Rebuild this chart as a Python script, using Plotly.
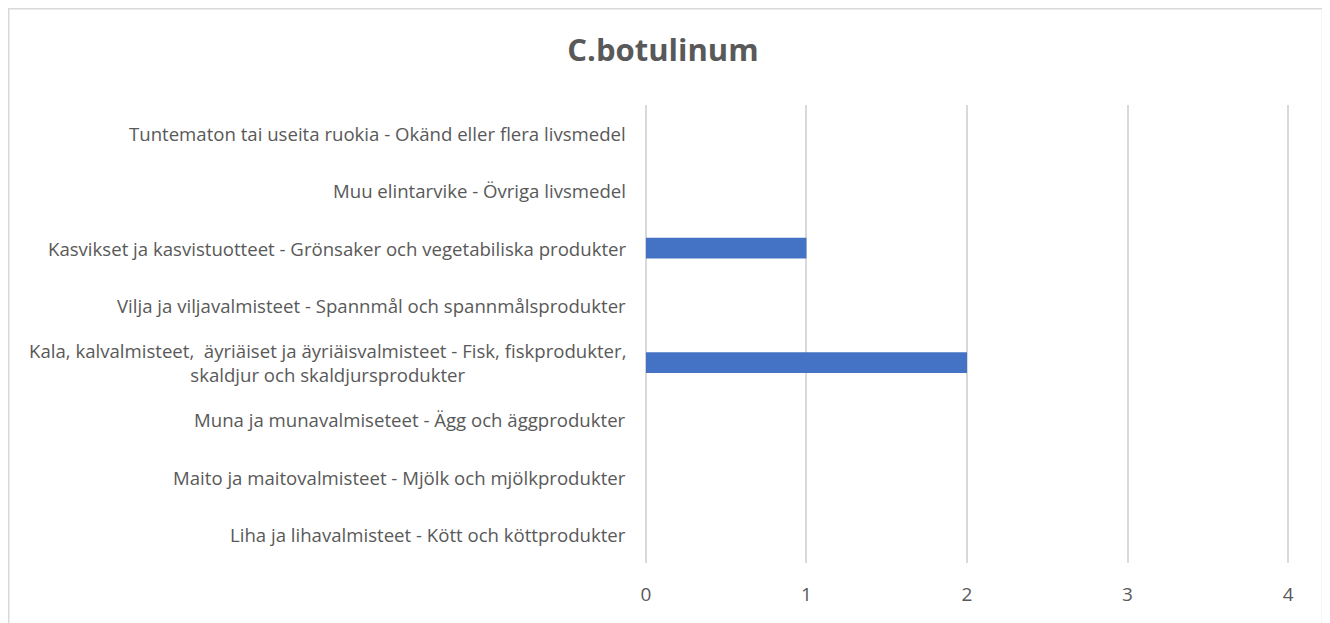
import plotly.graph_objects as go

categories = [
    "Liha ja lihavalmisteet - Kött och köttprodukter",
    "Maito ja maitovalmisteet - Mjölk och mjölkprodukter",
    "Muna ja munavalmiseteet - Ägg och äggprodukter",
    "Kala, kalvalmisteet,  äyriäiset ja äyriäisvalmisteet - Fisk, fiskprodukter,<br>skaldjur och skaldjursprodukter",
    "Vilja ja viljavalmisteet - Spannmål och spannmålsprodukter",
    "Kasvikset ja kasvistuotteet - Grönsaker och vegetabiliska produkter",
    "Muu elintarvike - Övriga livsmedel",
    "Tuntematon tai useita ruokia - Okänd eller flera livsmedel",
]
values = [0, 0, 0, 2, 0, 1, 0, 0]
x_ticks = [0, 1, 2, 3, 4]
title_text = "C.botulinum"

FONT = "Open Sans"
GREY = "#595959"

# page body has an 8px default margin
OFF = 8
W, H = 1330 - OFF, 623 - OFF
L, R, T, B = 644 - OFF, 40, 105 - OFF, 60
PW = W - L - R
PH = H - T - B

ids = list(range(len(categories)))

fig = go.Figure()
fig.add_trace(go.Bar(
    y=ids, x=values, orientation="h",
    marker=dict(color="#4472C4", line=dict(width=0)),
    hoverinfo="x",
))

annotations = []
for i, c in zip(ids, categories):
    annotations.append(dict(
        x=0, xref="paper", y=i, yref="y", text=c, showarrow=False,
        xanchor="right", yanchor="middle", align="center", xshift=-16,
        font=dict(family=FONT, size=18.6, color=GREY),
    ))

fig.update_layout(
    width=W, height=H,
    margin=dict(l=L, r=R, t=T, b=B),
    paper_bgcolor="white", plot_bgcolor="white",
    showlegend=False,
    bargap=0.64,
    title=dict(text="<b>%s</b>" % title_text, x=(663 - OFF) / W, xanchor="center",
               y=1 - (50 - OFF) / H, yanchor="middle",
               font=dict(family=FONT, size=31, color=GREY)),
    xaxis=dict(range=[-0.012, 4.012], tickvals=x_ticks, showgrid=True, gridcolor="#d9d9d9",
               gridwidth=1.5, zeroline=False, showline=False,
               ticks="", ticklabelstandoff=18,
               tickfont=dict(family=FONT, size=19, color=GREY)),
    yaxis=dict(range=[-0.5, len(categories) - 0.5], showticklabels=False,
               showgrid=False, zeroline=False, showline=False, fixedrange=True),
    annotations=annotations,
    shapes=[dict(type="rect", xref="paper", yref="paper",
                 x0=(0.75 - L) / PW, x1=(1322.5 - OFF - L) / PW,
                 y0=-(B + 20) / PH, y1=1 + (T - 0.75) / PH,
                 line=dict(color="#d9d9d9", width=1.5), layer="below")],
)

fig.write_html("out.html")
